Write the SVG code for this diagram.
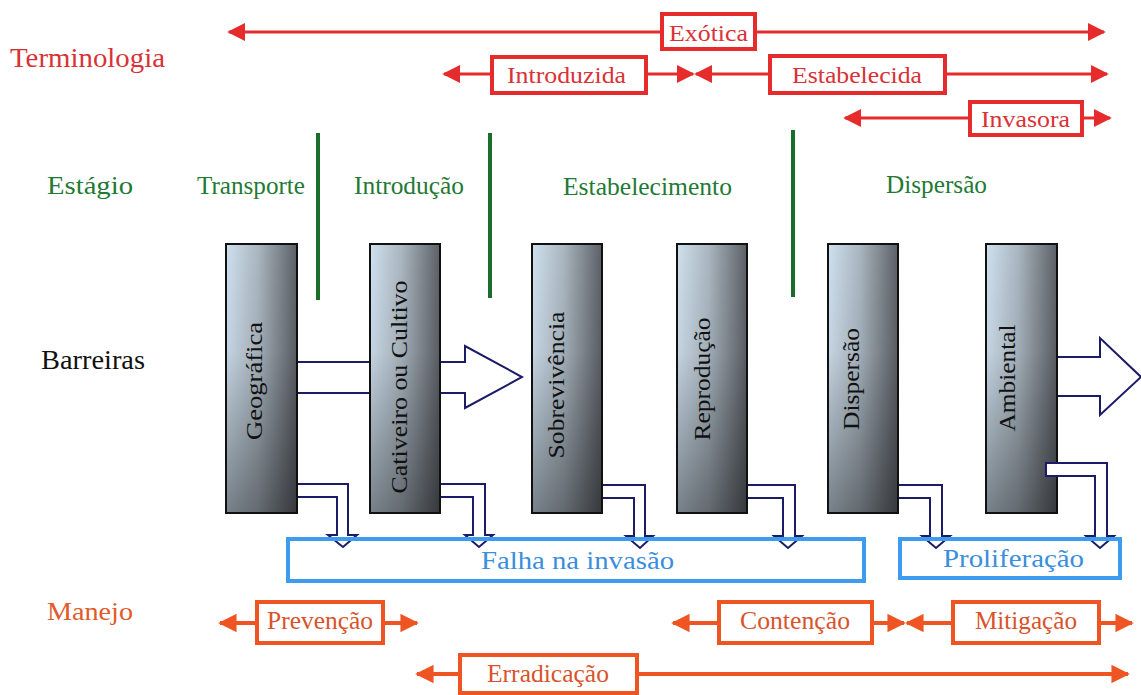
<svg xmlns="http://www.w3.org/2000/svg" width="1141" height="695" viewBox="0 0 1141 695">
<defs>
  <linearGradient id="barH" x1="0" y1="0" x2="1" y2="0">
    <stop offset="0" stop-color="#cfe0ee"/>
    <stop offset="0.45" stop-color="#aab6c0"/>
    <stop offset="1" stop-color="#5c6066"/>
  </linearGradient>
  <linearGradient id="barV" x1="0" y1="0" x2="0" y2="1">
    <stop offset="0" stop-color="#000" stop-opacity="0"/>
    <stop offset="0.4" stop-color="#000" stop-opacity="0.05"/>
    <stop offset="1" stop-color="#000" stop-opacity="0.42"/>
  </linearGradient>
  <marker id="rh" viewBox="0 0 10 10" refX="9" refY="5" markerWidth="6" markerHeight="6" orient="auto" markerUnits="strokeWidth">
    <path d="M0,0 L10,5 L0,10 Z" fill="#e52b2b"/>
  </marker>
  <marker id="oh" viewBox="0 0 10 10" refX="9" refY="5" markerWidth="4.6" markerHeight="4.6" orient="auto" markerUnits="strokeWidth">
    <path d="M0,0 L10,5 L0,10 Z" fill="#ee5522"/>
  </marker>
</defs>
<style>
  text { font-family: "Liberation Serif", "Times New Roman", serif; }
  .term { fill: #d93236; font-size: 24px; }
  .rbox { fill: #fff; stroke: #e52b2b; stroke-width: 4; }
  .rline { stroke: #e52b2b; stroke-width: 3; fill: none; marker-end: url(#rh); }
  .stage { fill: #1f7a33; font-size: 25px; }
  .gline { stroke: #1a6e2a; stroke-width: 4; }
  .bar { fill: url(#barH); stroke: #111; stroke-width: 2; }
  .barshade { fill: url(#barV); }
  .blab { fill: #111; font-size: 24px; text-anchor: middle; }
  .navy { fill: #fff; stroke: #1b1b66; stroke-width: 2; stroke-linejoin: miter; }
  .bbox { fill: none; stroke: #3d9cf0; stroke-width: 4; }
  .btext { fill: #3a8ede; font-size: 25px; }
  .obox { fill: #fff; stroke: #ee5522; stroke-width: 4; }
  .oline { stroke: #ee5522; stroke-width: 4; fill: none; marker-end: url(#oh); }
  .otext { fill: #d9532b; font-size: 25px; }
  .black { fill: #111; font-size: 27px; }
</style>
<rect width="1141" height="695" fill="#fff"/>

<!-- Row labels -->
<g id="row-labels">
  <text x="10" y="67" fill="#d93236" font-size="27" textLength="155" lengthAdjust="spacingAndGlyphs">Terminologia</text>
  <text class="stage" x="47" y="194" textLength="86" lengthAdjust="spacingAndGlyphs">Estágio</text>
  <text class="black" x="41" y="369" textLength="104" lengthAdjust="spacingAndGlyphs">Barreiras</text>
  <text x="47" y="620" fill="#e05a2a" font-size="26" textLength="86" lengthAdjust="spacingAndGlyphs">Manejo</text>
</g>

<!-- Connectors -->
<g id="connectors">
  <!-- Terminology arrows -->
  <line class="rline" x1="662" y1="32" x2="229" y2="32"/>
  <line class="rline" x1="755" y1="32" x2="1104" y2="32"/>
  <line class="rline" x1="492" y1="74" x2="444" y2="74"/>
  <line class="rline" x1="646" y1="74" x2="693" y2="74"/>
  <line class="rline" x1="770" y1="74" x2="696" y2="74"/>
  <line class="rline" x1="945" y1="74" x2="1107" y2="74"/>
  <line class="rline" x1="970" y1="118" x2="845" y2="118"/>
  <line class="rline" x1="1082" y1="118" x2="1110" y2="118"/>
  <!-- Management arrows -->
  <line class="oline" x1="257" y1="623" x2="220" y2="623"/>
  <line class="oline" x1="383" y1="623" x2="417" y2="623"/>
  <line class="oline" x1="719" y1="623" x2="673" y2="623"/>
  <line class="oline" x1="872" y1="623" x2="904" y2="623"/>
  <line class="oline" x1="953" y1="623" x2="907" y2="623"/>
  <line class="oline" x1="1099" y1="623" x2="1132" y2="623"/>
  <line class="oline" x1="460" y1="674" x2="417" y2="674"/>
  <line class="oline" x1="637" y1="674" x2="1128" y2="674"/>
  <!-- Stage separators -->
  <line class="gline" x1="318" y1="133" x2="318" y2="300"/>
  <line class="gline" x1="490" y1="133" x2="490" y2="298"/>
  <line class="gline" x1="793" y1="130" x2="793" y2="297"/>
  <!-- Big hollow arrow through first barriers -->
  <polygon class="navy" points="290,362 465,362 465,346 522,377 465,408 465,393 290,393"/>
  <!-- Small bent hollow arrows (behind bars) -->
  <path class="navy" d="M292,484 H348 V535 H357 L343,547 L328,535 H337 V497 H292 Z"/>
  <path class="navy" d="M435,484 H485 V535 H493 L479,547 L465,535 H473 V497 H435 Z"/>
  <path class="navy" d="M597,485 H645 V536 H653 L640,548 L626,536 H634 V498 H597 Z"/>
  <path class="navy" d="M742,485 H795 V536 H802 L788,548 L774,536 H783 V498 H742 Z"/>
  <path class="navy" d="M893,485 H942 V536 H950 L936,548 L922,536 H930 V498 H893 Z"/>
  <!-- Big arrow out of Ambiental -->
  <polygon class="navy" points="1050,357 1100,357 1100,338 1141,377 1100,415 1100,396 1050,396"/>
</g>

<!-- Terminology boxes -->
<g id="node-exotica">
  <rect class="rbox" x="662" y="14" width="93" height="35"/>
  <text class="term" x="669" y="41" textLength="79" lengthAdjust="spacingAndGlyphs">Exótica</text>
</g>
<g id="node-introduzida">
  <rect class="rbox" x="492" y="57" width="154" height="36"/>
  <text class="term" x="507" y="83" textLength="119" lengthAdjust="spacingAndGlyphs">Introduzida</text>
</g>
<g id="node-estabelecida">
  <rect class="rbox" x="770" y="56" width="175" height="37"/>
  <text class="term" x="792" y="83" textLength="130" lengthAdjust="spacingAndGlyphs">Estabelecida</text>
</g>
<g id="node-invasora">
  <rect class="rbox" x="970" y="102" width="112" height="33"/>
  <text class="term" x="981" y="127" textLength="89" lengthAdjust="spacingAndGlyphs">Invasora</text>
</g>

<!-- Stage labels -->
<g id="stages">
  <text class="stage" x="197" y="194" textLength="108" lengthAdjust="spacingAndGlyphs">Transporte</text>
  <text class="stage" x="354" y="194" textLength="110" lengthAdjust="spacingAndGlyphs">Introdução</text>
  <text class="stage" x="563" y="195" textLength="169" lengthAdjust="spacingAndGlyphs">Estabelecimento</text>
  <text class="stage" x="886" y="193" textLength="101" lengthAdjust="spacingAndGlyphs">Dispersão</text>
</g>

<!-- Barrier bars -->
<g id="bar-geografica">
  <rect class="bar" x="226" y="244" width="71" height="269"/>
  <rect class="barshade" x="227" y="245" width="69" height="267"/>
  <text class="blab" transform="translate(262,381) rotate(-90)" textLength="118" lengthAdjust="spacingAndGlyphs">Geográfica</text>
</g>
<g id="bar-cativeiro">
  <rect class="bar" x="370" y="244" width="70" height="269"/>
  <rect class="barshade" x="371" y="245" width="68" height="267"/>
  <text class="blab" transform="translate(407,387) rotate(-90)" textLength="213" lengthAdjust="spacingAndGlyphs">Cativeiro ou Cultivo</text>
</g>
<g id="bar-sobrevivencia">
  <rect class="bar" x="532" y="244" width="70" height="269"/>
  <rect class="barshade" x="533" y="245" width="68" height="267"/>
  <text class="blab" transform="translate(564,385) rotate(-90)" textLength="147" lengthAdjust="spacingAndGlyphs">Sobrevivência</text>
</g>
<g id="bar-reproducao">
  <rect class="bar" x="677" y="244" width="70" height="269"/>
  <rect class="barshade" x="678" y="245" width="68" height="267"/>
  <text class="blab" transform="translate(710,379) rotate(-90)" textLength="123" lengthAdjust="spacingAndGlyphs">Reprodução</text>
</g>
<g id="bar-dispersao">
  <rect class="bar" x="828" y="244" width="70" height="269"/>
  <rect class="barshade" x="829" y="245" width="68" height="267"/>
  <text class="blab" transform="translate(859,379) rotate(-90)" textLength="102" lengthAdjust="spacingAndGlyphs">Dispersão</text>
</g>
<g id="bar-ambiental">
  <rect class="bar" x="986" y="244" width="71" height="269"/>
  <rect class="barshade" x="987" y="245" width="69" height="267"/>
  <text class="blab" transform="translate(1015,378) rotate(-90)" textLength="107" lengthAdjust="spacingAndGlyphs">Ambiental</text>
</g>

<!-- Ambiental bent arrow (drawn over the bar) -->
<g id="connector-ambiental">
  <path class="navy" d="M1046,463 H1107 V536 H1114 L1100,548 L1086,536 H1095 V476 H1046 Z"/>
</g>

<!-- Outcome boxes -->
<g id="node-falha">
  <rect class="bbox" x="288" y="539" width="576" height="42"/>
  <text class="btext" x="481" y="569" textLength="193" lengthAdjust="spacingAndGlyphs">Falha na invasão</text>
</g>
<g id="node-proliferacao">
  <rect class="bbox" x="900" y="539" width="220" height="39"/>
  <text class="btext" x="943" y="567" textLength="141" lengthAdjust="spacingAndGlyphs">Proliferação</text>
</g>

<!-- Management boxes -->
<g id="node-prevencao">
  <rect class="obox" x="257" y="602" width="126" height="41"/>
  <text class="otext" x="267" y="629" textLength="106" lengthAdjust="spacingAndGlyphs">Prevenção</text>
</g>
<g id="node-contencao">
  <rect class="obox" x="719" y="602" width="153" height="41"/>
  <text class="otext" x="740" y="629" textLength="110" lengthAdjust="spacingAndGlyphs">Contenção</text>
</g>
<g id="node-mitigacao">
  <rect class="obox" x="953" y="602" width="146" height="41"/>
  <text class="otext" x="975" y="629" textLength="102" lengthAdjust="spacingAndGlyphs">Mitigação</text>
</g>
<g id="node-erradicacao">
  <rect class="obox" x="460" y="655" width="177" height="38"/>
  <text class="otext" x="487" y="682" textLength="122" lengthAdjust="spacingAndGlyphs">Erradicação</text>
</g>
</svg>
